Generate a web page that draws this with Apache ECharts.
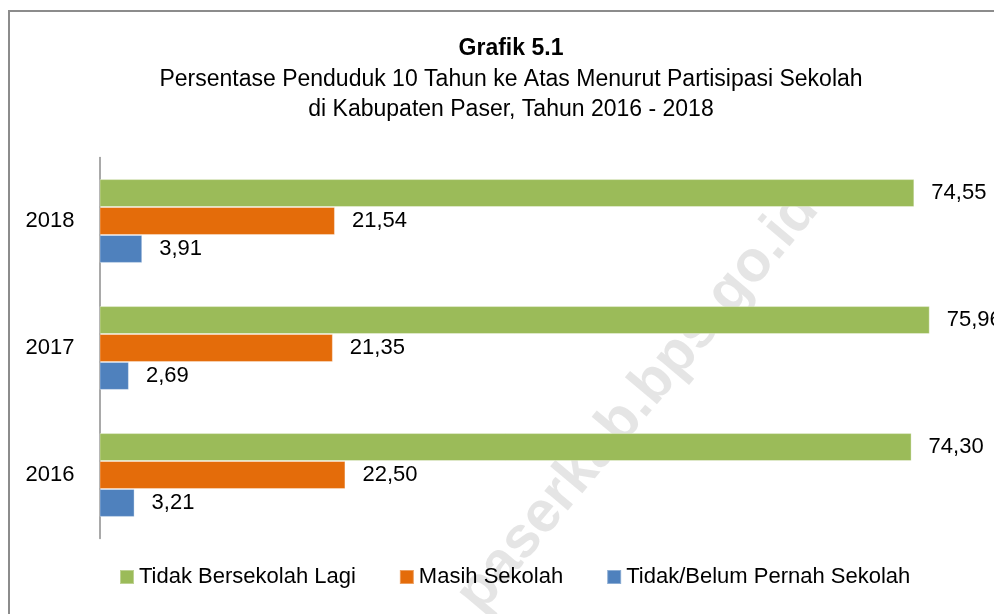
<!DOCTYPE html>
<html>
<head>
<meta charset="utf-8">
<script src="https://cdn.jsdelivr.net/npm/echarts@6/dist/echarts.min.js"></script>
<style>
html,body{margin:0;padding:0;background:#fff;}
#chart{width:994px;height:614px;}
</style>
</head>
<body>
<div id="chart"></div>
<script>
var categories = ['2016', '2017', '2018'];
var tidakBersekolahLagi = [74.30, 75.96, 74.55];
var masihSekolah = [22.50, 21.35, 21.54];
var tidakBelumPernah = [3.21, 2.69, 3.91];
var seriesNames = ['Tidak Bersekolah Lagi', 'Masih Sekolah', 'Tidak/Belum Pernah Sekolah'];
var titleText = 'Grafik 5.1';
var subtitleLines = ['Persentase Penduduk 10 Tahun ke Atas Menurut Partisipasi Sekolah', 'di Kabupaten Paser, Tahun 2016 - 2018'];

var FONT = "'Liberation Sans Narrow', 'Arial Narrow', 'Liberation Sans', Arial, sans-serif";
var FS = 22;
var colors = ['#9BBB59', '#E46C0A', '#4F81BD'];

function fmt(p) { return p.value.toFixed(2).replace('.', ','); }

function mkSeries(name, data, color) {
  return {
    name: name,
    type: 'bar',
    data: data,
    barGap: '0%',
    barCategoryGap: '34%',
    itemStyle: { color: color, borderColor: 'rgba(255,255,255,0.35)', borderWidth: 1 },
    label: {
      show: true, position: 'right', distance: 17,
      formatter: fmt, fontFamily: FONT, fontSize: FS, color: '#000'
    },
    z: 3
  };
}

var chart = echarts.init(document.getElementById('chart'), null, { renderer: 'canvas' });
chart.setOption({
  animation: false,
  backgroundColor: '#fff',
  color: colors,
  title: {
    text: titleText,
    subtext: subtitleLines.join('\n'),
    left: 506, top: 29, textAlign: 'center',
    itemGap: 1,
    textStyle: { fontFamily: FONT, fontSize: 23, fontWeight: 'bold', color: '#000', lineHeight: 30 },
    subtextStyle: { fontFamily: FONT, fontSize: 23, color: '#000', lineHeight: 30 }
  },
  legend: {
    data: seriesNames,
    left: 119, top: 566, padding: 0,
    itemWidth: 14, itemHeight: 14, itemGap: 43,
    icon: 'rect',
    textStyle: { fontFamily: FONT, fontSize: FS, color: '#000' }
  },
  grid: { left: 99.5, top: 157.5, width: 874.4, height: 381, containLabel: false },
  xAxis: {
    type: 'value', min: 0, max: 80,
    show: false, splitLine: { show: false }
  },
  yAxis: {
    type: 'category', data: categories,
    axisLine: { show: true, lineStyle: { color: '#8C8C8C', width: 1.5 } },
    axisTick: { show: false },
    axisLabel: { margin: 25, fontFamily: FONT, fontSize: FS, color: '#000' }
  },
  graphic: [
    { type: 'rect', shape: { x: 9, y: 11, width: 1100, height: 800 }, style: { fill: 'none', stroke: '#8C8C8C', lineWidth: 2 }, z: 0, silent: true },
    { type: 'text', x: 638, y: 402, rotation: 50 * Math.PI / 180, z: 0, silent: true,
      style: { text: 'paserkab.bps.go.id', fontFamily: "'Liberation Sans', Arial, sans-serif", fontWeight: 'bold', fontSize: 58, fill: 'rgba(170,170,170,0.3)', align: 'center', verticalAlign: 'middle' } }
  ],
  series: [
    mkSeries(seriesNames[0], tidakBersekolahLagi, colors[0]),
    mkSeries(seriesNames[1], masihSekolah, colors[1]),
    mkSeries(seriesNames[2], tidakBelumPernah, colors[2])
  ]
});
</script>
</body>
</html>
